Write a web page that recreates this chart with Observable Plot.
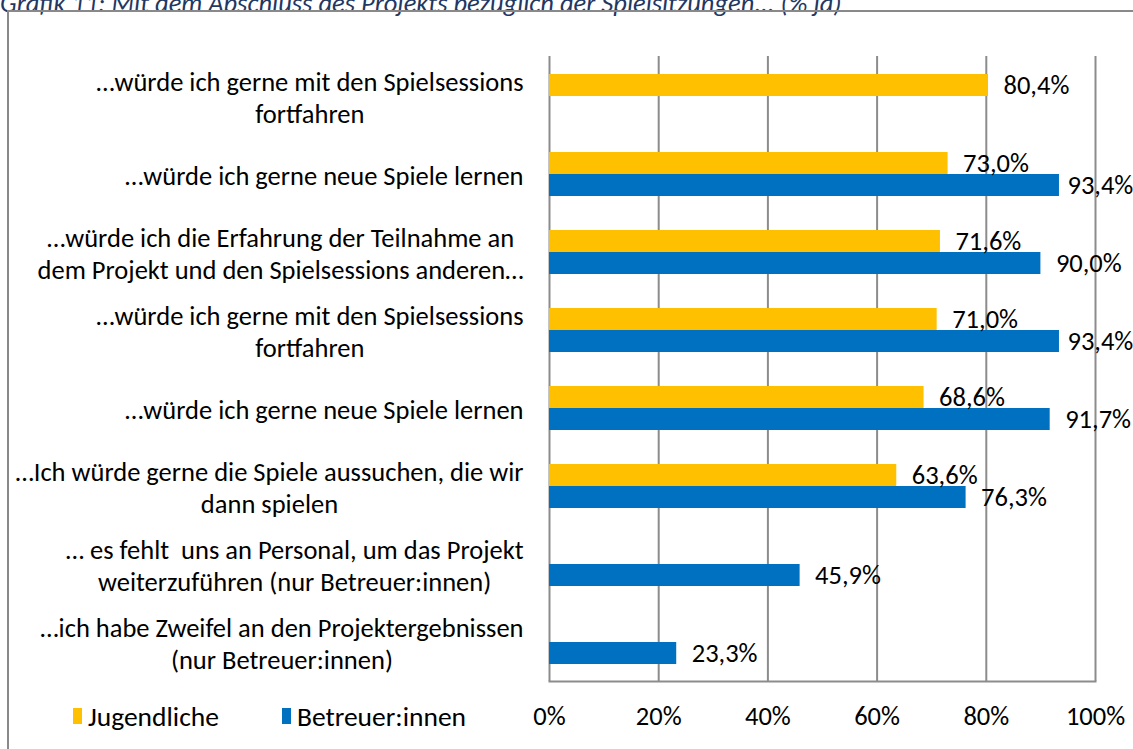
<!DOCTYPE html>
<html><head><meta charset="utf-8">
<script src="https://cdn.jsdelivr.net/npm/d3@7"></script>
<script src="https://cdn.jsdelivr.net/npm/@observablehq/plot@0.6"></script>
<style>
html,body{margin:0;padding:0;background:#fff;overflow:hidden;width:1133px;height:749px;position:relative;}
#title{position:absolute;left:0;top:-10px;font:italic 26.5px Carlito,Calibri,sans-serif;line-height:26px;color:#1F3864;white-space:nowrap;}
#box{position:absolute;left:7px;top:10px;width:1200px;height:800px;border:2px solid #898989;box-sizing:border-box;}
#chart{position:absolute;left:0;top:0;}
.leg{position:absolute;top:700px;font:27.5px Carlito,Calibri,sans-serif;color:#000;display:flex;align-items:center;height:32px;}
.sw{display:inline-block;width:9px;height:16px;margin-right:6px;}
</style></head><body>
<div id="title">Grafik 11: Mit dem Abschluss des Projekts bezüglich der Spielsitzungen... (% ja)</div>
<div id="box"></div>
<div id="chart"></div>
<div class="leg" style="left:73px"><span class="sw" style="background:#FFC000"></span>Jugendliche</div>
<div class="leg" style="left:282px"><span class="sw" style="background:#0070C0"></span>Betreuer:innen</div>
<script>
// ---- data ----
const categories = [
  "…würde ich gerne mit den Spielsessions\nfortfahren",
  "…würde ich gerne neue Spiele lernen",
  "…würde ich die Erfahrung der Teilnahme an\ndem Projekt und den Spielsessions anderen…",
  "…würde ich gerne mit den Spielsessions\nfortfahren",
  "…würde ich gerne neue Spiele lernen",
  "…Ich würde gerne die Spiele aussuchen, die wir\ndann spielen",
  "… es fehlt  uns an Personal, um das Projekt\nweiterzuführen (nur Betreuer:innen)",
  "…ich habe Zweifel an den Projektergebnissen\n(nur Betreuer:innen)"
];
const jugendliche = [80.4, 73.0, 71.6, 71.0, 68.6, 63.6, null, null];
const betreuer = [null, 93.4, 90.0, 93.4, 91.7, 76.3, 45.9, 23.3];
const seriesNames = ["Jugendliche", "Betreuer:innen"];
const xTicks = [0, 20, 40, 60, 80, 100];

// ---- style ----
const FONT = "Carlito, Calibri, sans-serif";
const FS = 26.5;
const colors = {"Jugendliche": "#FFC000", "Betreuer:innen": "#0070C0"};
const ids = categories.map((_, i) => i);

const rows = [];
categories.forEach((c, i) => {
  if (jugendliche[i] != null) rows.push({i, series: seriesNames[0], value: jugendliche[i]});
  if (betreuer[i] != null) rows.push({i, series: seriesNames[1], value: betreuer[i]});
});
const fmt = v => v.toFixed(1).replace(".", ",") + "%";

const ctx = document.createElement("canvas").getContext("2d");
ctx.font = `${FS}px ${FONT}`;
const blockWidth = s => d3.max(s.split("\n"), l => ctx.measureText(l).width);

const labelMarks = categories.map((c, i) =>
  Plot.text([i], {
    x: 0, y: d => d, text: () => c,
    textAnchor: "middle", lineAnchor: "middle", lineHeight: 1.2,
    dx: -(26 + blockWidth(c) / 2), fill: "#000", fontSize: FS
  })
);

const yellow = rows.filter(d => d.series === seriesNames[0]);
const blue = rows.filter(d => d.series === seriesNames[1]);

const plot = Plot.plot({
  width: 1133, height: 749,
  marginLeft: 549, marginRight: 38, marginTop: 56, marginBottom: 68,
  style: {fontFamily: FONT, fontSize: FS + "px", color: "#000", background: "transparent"},
  x: {domain: [0, 100], ticks: xTicks, tickFormat: d => d + "%", tickSize: 0, tickPadding: 25, label: null},
  y: {type: "band", domain: ids, paddingInner: 0, paddingOuter: 0, axis: null},
  marks: [
    Plot.ruleX(xTicks, {stroke: "#8c8c8c", strokeWidth: 2}),
    Plot.frame({anchor: "bottom", stroke: "#8c8c8c", strokeWidth: 2}),
    Plot.barX(yellow, {x: "value", y: "i", fill: colors[seriesNames[0]], insetTop: 17, insetBottom: 39}),
    Plot.barX(blue, {x: "value", y: "i", fill: colors[seriesNames[1]], insetTop: 39, insetBottom: 17}),
    Plot.text(yellow, {x: "value", y: "i", text: d => fmt(d.value), textAnchor: "start", dx: 15, dy: -11, fill: "#000", fontSize: FS}),
    Plot.text(blue.filter(d => d.value < 93), {x: "value", y: "i", text: d => fmt(d.value), textAnchor: "start", dx: 15, dy: 11, fill: "#000", fontSize: FS}),
    Plot.text(blue.filter(d => d.value >= 93), {x: "value", y: "i", text: d => fmt(d.value), textAnchor: "start", dx: 8, dy: 11, fill: "#000", fontSize: FS}),
    ...labelMarks
  ]
});
document.getElementById("chart").appendChild(plot);
</script>
</body></html>
